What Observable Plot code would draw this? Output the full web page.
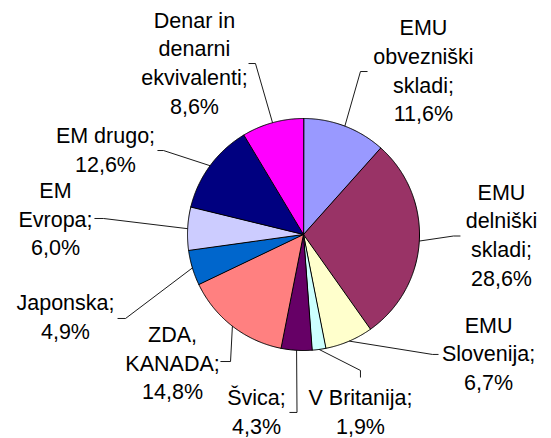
<!DOCTYPE html>
<html><head><meta charset="utf-8">
<script src="https://cdn.jsdelivr.net/npm/d3@7"></script>
<script src="https://cdn.jsdelivr.net/npm/@observablehq/plot@0.6"></script>
<style>
html,body{margin:0;padding:0;background:#fff}
#chart{position:absolute;left:0;top:0}
</style>
</head><body><div id="chart"></div>
<script>
// ---- data ----
const categories = ["EMU obvezniški skladi","EMU delniški skladi","EMU Slovenija","V Britanija","Švica","ZDA, KANADA","Japonska","EM Evropa","EM drugo","Denar in denarni ekvivalenti"];
const values = [11.6, 28.6, 6.7, 1.9, 4.3, 14.8, 4.9, 6.0, 12.6, 8.6];
const colors = ["#9999FF","#993366","#FFFFCC","#CCFFFF","#660066","#FF8080","#0066CC","#CCCCFF","#000080","#FF00FF"];

// ---- label layout (units of pie radius, centre = 0,0) ----
const labelLines = [["EMU","obvezniški","skladi;"],["EMU","delniški","skladi;"],["EMU","Slovenija;"],["V Britanija;"],["Švica;"],["ZDA,","KANADA;"],["Japonska;"],["EM","Evropa;"],["EM drugo;"],["Denar in","denarni","ekvivalenti;"]];
const labelX = [1.034, 1.707, 1.595, 0.491, -0.405, -1.129, -2.052, -2.138, -1.707, -0.940];
const labelY = [1.401, -0.017, -1.039, -1.539, -1.543, -1.121, -0.724, 0.121, 0.716, 1.466];
const elbowX = [0.491, 1.293, 1.112, 0.491, -0.056, -0.629, -1.534, -1.724, -1.207, -0.414];
const elbowY = [1.405, -0.013, -1.034, -1.172, -1.534, -1.095, -0.724, 0.138, 0.724, 1.474];
const endX   = [0.552, 1.353, 1.164, 0.491, -0.121, -0.716, -1.603, -1.802, -1.259, -0.474];
const endY   = [1.405, -0.013, -1.034, -1.233, -1.534, -1.095, -0.724, 0.138, 0.724, 1.474];

// ---- build geometry ----
const pie = d3.pie().sort(null).value(d => d)(values);
const slicePts = [];
const leaderPts = [];
pie.forEach((p, i) => {
  const name = categories[i];
  slicePts.push({name, x: 0, y: 0});
  const n = Math.max(2, Math.ceil((p.endAngle - p.startAngle) / (Math.PI / 360)));
  for (let k = 0; k <= n; k++) {
    const a = p.startAngle + (p.endAngle - p.startAngle) * k / n;
    slicePts.push({name, x: Math.sin(a), y: Math.cos(a)});
  }
  const m = (p.startAngle + p.endAngle) / 2;
  leaderPts.push({name, x: Math.sin(m), y: Math.cos(m)});
  leaderPts.push({name, x: elbowX[i], y: elbowY[i]});
  leaderPts.push({name, x: endX[i], y: endY[i]});
});
const labels = categories.map((c, i) => ({
  x: labelX[i], y: labelY[i],
  text: labelLines[i].join("\n") + "\n" + values[i].toFixed(1).replace(".", ",") + "%"
}));

const R = 116, cx = 303, cy = 234, W = 551, H = 438;
const chart = Plot.plot({
  width: W, height: H,
  margin: 0,
  style: {background: "#fff", overflow: "visible"},
  x: {domain: [-cx / R, (W - cx) / R], axis: null},
  y: {domain: [-(H - cy) / R, cy / R], axis: null},
  color: {domain: categories, range: colors},
  marks: [
    Plot.line(slicePts, {x: "x", y: "y", z: "name", fill: "name", stroke: "#000", strokeWidth: 1, curve: "linear-closed", strokeLinejoin: "miter"}),
    Plot.line(leaderPts, {x: "x", y: "y", z: "name", stroke: "#000", strokeWidth: 0.9, strokeLinejoin: "miter", strokeLinecap: "butt"}),
    Plot.text(labels, {x: "x", y: "y", dy: -3, text: "text", textAnchor: "middle", lineAnchor: "middle", lineHeight: 1.335, fontSize: 21.5, fontFamily: "'Liberation Sans', Arial, sans-serif", fill: "#000"})
  ]
});
document.getElementById("chart").appendChild(chart);
</script>
</body></html>
